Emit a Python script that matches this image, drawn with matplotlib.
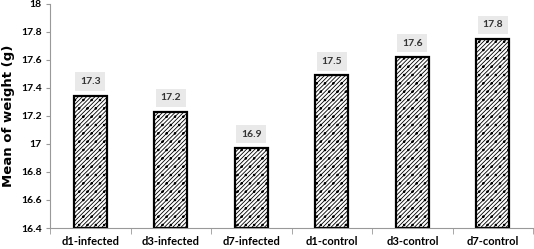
import matplotlib.pyplot as plt
import numpy as np

# data
groups = ['d1-infected', 'd3-infected', 'd7-infected', 'd1-control', 'd3-control', 'd7-control']
weights = [17.345, 17.23, 16.97, 17.49, 17.62, 17.75]
labels = ['17.3', '17.2', '16.9', '17.5', '17.6', '17.8']

plt.rcParams['font.family'] = ['Lato', 'DejaVu Sans']
plt.rcParams['hatch.linewidth'] = 0.6

fig = plt.figure(figsize=(5.34, 2.49), dpi=100)
ax = fig.add_axes([0.0936, 0.0843, 0.905, 0.9])

x = np.arange(len(groups))
ax.bar(x, [w - 16.4 for w in weights], bottom=16.4, width=0.41,
       color='white', edgecolor='black', linewidth=1.6, hatch='////////..')

for xi, w, lab in zip(x, weights, labels):
    ax.text(xi, w + 0.1, lab, ha='center', va='center', fontsize=7.5, fontweight='bold',
            color='#333333',
            bbox=dict(boxstyle='square,pad=0.45', fc='#e9e9e9', ec='none'))

ax.set_ylim(16.4, 18)
ax.set_xlim(-0.5, len(groups) - 0.5)
ax.set_yticks(np.arange(16.4, 18.01, 0.2))
ax.set_yticklabels(['16.4', '16.6', '16.8', '17', '17.2', '17.4', '17.6', '17.8', '18'])
ax.set_xticks(x)
ax.set_xticklabels(groups)
ax.set_xticks(np.arange(-0.5, len(groups), 1), minor=True)
ax.tick_params(axis='x', which='major', length=0, labelsize=8, pad=6)
ax.tick_params(axis='x', which='minor', length=4, color='#999999', direction='out')
ax.tick_params(axis='y', length=3, color='#999999', labelsize=7.5, pad=3)
for t in ax.get_xticklabels() + ax.get_yticklabels():
    t.set_fontweight('bold')

ax.set_ylabel('Mean of weight (g)', fontsize=9.5, fontweight='bold',
              family=['DejaVu Sans'])
ax.yaxis.set_label_coords(-0.072, 0.5)
for s in ['top', 'right']:
    ax.spines[s].set_visible(False)
ax.spines['left'].set_color('#999999')
ax.spines['bottom'].set_color('#999999')

plt.savefig('out.png', dpi=100)
